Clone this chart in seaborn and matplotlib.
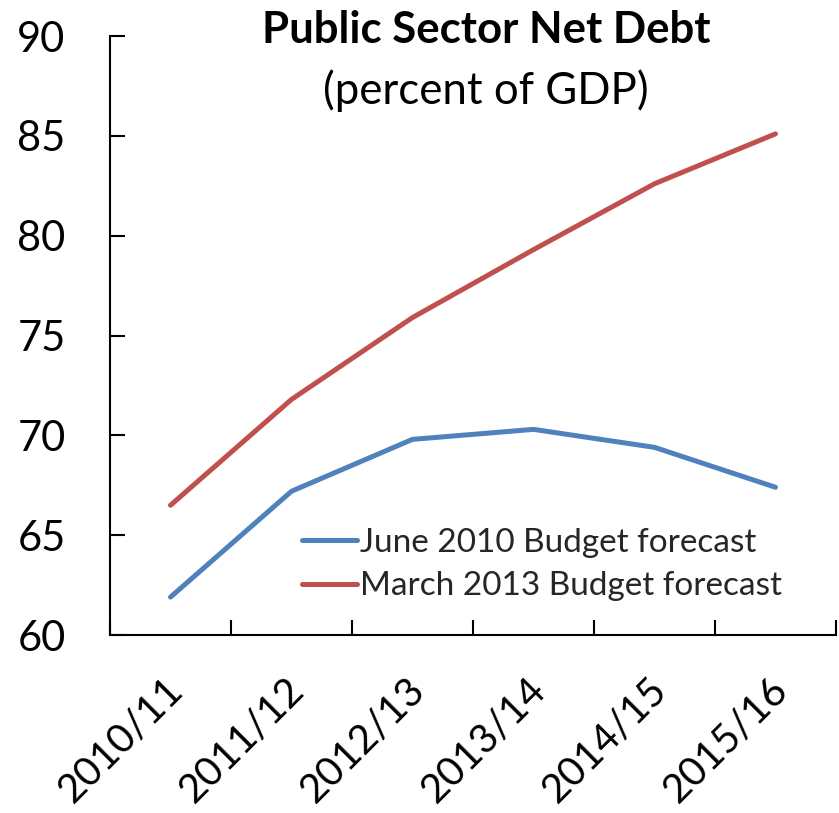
import matplotlib
matplotlib.use("Agg")
import matplotlib.pyplot as plt
from matplotlib.ticker import FixedLocator
from matplotlib.transforms import ScaledTranslation
import seaborn as sns
import pandas as pd

years = ["2010/11", "2011/12", "2012/13", "2013/14", "2014/15", "2015/16"]
june_2010 = [61.9, 67.2, 69.8, 70.3, 69.4, 67.4]
march_2013 = [66.5, 71.8, 75.9, 79.3, 82.6, 85.1]
series_names = ["June 2010 Budget forecast", "March 2013 Budget forecast"]
y_ticks = [60, 65, 70, 75, 80, 85, 90]

df = pd.DataFrame({
    "year": years * 2,
    "debt": june_2010 + march_2013,
    "series": [series_names[0]] * len(years) + [series_names[1]] * len(years),
})

sns.set_theme(style="white")
plt.rcParams["font.family"] = ["Lato", "DejaVu Sans"]

fig = plt.figure(figsize=(8.39, 8.13), dpi=100)
ax = fig.add_axes([0.1311, 0.2189, 0.8653, 0.7368])

palette = {series_names[0]: "#4F81BD", series_names[1]: "#C0504D"}
sns.lineplot(data=df, x="year", y="debt", hue="series", palette=palette,
             linewidth=3.6, sort=False, ax=ax)

ax.set_xlim(-0.5, len(years) - 0.5)
ax.set_ylim(60, 90)
ax.set_yticks(y_ticks)
ax.set_xticks(range(len(years)))
ax.set_xticklabels([])
ax.xaxis.set_minor_locator(FixedLocator([i - 0.5 for i in range(len(years) + 1)]))
ax.set_xlabel("")
ax.set_ylabel("")

for side in ["top", "right"]:
    ax.spines[side].set_visible(False)
for side in ["left", "bottom"]:
    ax.spines[side].set_color("black")
    ax.spines[side].set_linewidth(1.5)

ax.tick_params(axis="y", which="major", direction="in", length=11, width=1.5,
               color="black", labelsize=30, pad=32, labelcolor="black", left=True)
ax.tick_params(axis="x", which="major", length=0)
ax.tick_params(axis="x", which="minor", direction="in", length=11, width=1.5,
               color="black", bottom=True)

# slanted year labels, each ending just under its category
label_tf = ax.get_xaxis_transform() + ScaledTranslation(-0.07, -0.36, fig.dpi_scale_trans)
for i, year in enumerate(years):
    ax.text(i, 0, year, transform=label_tf, rotation=45, ha="right", va="top",
            rotation_mode="anchor", fontsize=29, color="black", clip_on=False)

leg = ax.legend(loc="center left", bbox_to_anchor=(0.264, 0.1177), frameon=False,
                fontsize=24, handlelength=1.65, handletextpad=0.1,
                labelspacing=0.4, borderaxespad=0, borderpad=0)
for line in leg.get_lines():
    line.set_linewidth(3.6)

fig.text(0.579, 0.963, "Public Sector Net Debt", ha="center", va="center",
         fontsize=31.5, fontweight="bold", color="black")
fig.text(0.579, 0.889, "(percent of GDP)", ha="center", va="center",
         fontsize=31.5, color="black")

fig.savefig("out.png", dpi=100)
